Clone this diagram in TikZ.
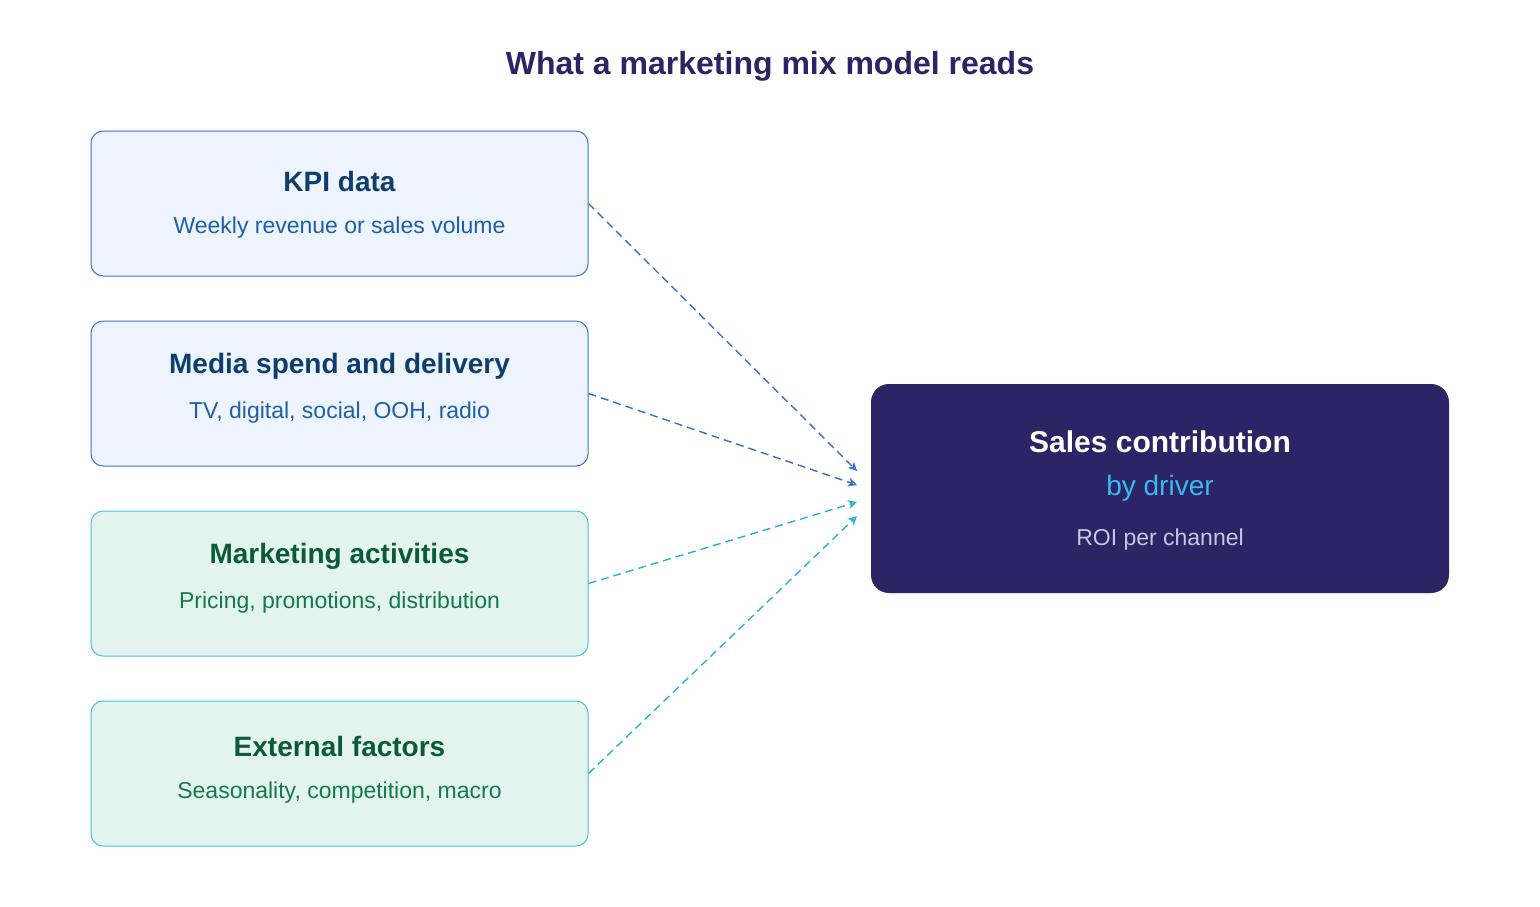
\documentclass[tikz,border=0pt]{standalone}
\usepackage{fontspec}
\setmainfont{Liberation Sans}
\usetikzlibrary{arrows.meta}
\definecolor{navy}{HTML}{2B2566}
\definecolor{bfill}{HTML}{EEF4FD}
\definecolor{bline}{HTML}{3D72C4}
\definecolor{btitle}{HTML}{0E3D6E}
\definecolor{bsub}{HTML}{1F5FA5}
\definecolor{gfill}{HTML}{E3F4EE}
\definecolor{gline}{HTML}{45C4DA}
\definecolor{gtitle}{HTML}{0B5A3C}
\definecolor{gsub}{HTML}{137A4E}
\definecolor{arrb}{HTML}{3A6FC4}
\definecolor{arrc}{HTML}{28B2D2}
\definecolor{sky}{HTML}{3AB8F0}
\definecolor{roi}{HTML}{C8C6E0}
\begin{document}
\begin{tikzpicture}[x=1pt,y=-1pt,
  box/.style={draw,line width=1pt,rounded corners=12pt,minimum width=497pt,minimum height=145pt,inner sep=0pt},
  bbox/.style={box,fill=bfill,draw=bline},
  gbox/.style={box,fill=gfill,draw=gline},
  tt/.style={font=\fontsize{28}{32}\selectfont\bfseries},
  st/.style={font=\fontsize{23}{28}\selectfont},
  arr/.style={dashed,line width=1.4pt,dash pattern=on 8pt off 5pt,-{Stealth[length=9pt,width=9pt,open]}}]
\useasboundingbox (0,0) rectangle (1540,906);
\node[font=\fontsize{32}{36}\selectfont\bfseries,text=navy] (title) at (770,66) {What a marketing mix model reads};
\node[bbox] (k) at (339.5,203.5) {};
\node[tt,text=btitle] (kt) at (339.5,181) {KPI data};
\node[st,text=bsub] (ks) at (339.5,228) {Weekly revenue or sales volume};
\node[bbox] (m) at (339.5,393.5) {};
\node[tt,text=btitle] (mt) at (339.5,366) {Media spend and delivery};
\node[st,text=bsub] (ms) at (339.5,413) {TV, digital, social, OOH, radio};
\node[gbox] (a) at (339.5,583.5) {};
\node[tt,text=gtitle] (at) at (339.5,556) {Marketing activities};
\node[st,text=gsub] (as) at (339.5,603) {Pricing, promotions, distribution};
\node[gbox] (e) at (339.5,773.5) {};
\node[tt,text=gtitle] (et) at (339.5,746) {External factors};
\node[st,text=gsub] (es) at (339.5,793) {Seasonality, competition, macro};
\node[fill=navy,rounded corners=18pt,minimum width=578pt,minimum height=209pt,inner sep=0pt] (s) at (1160,488.5) {};
\node[font=\fontsize{30}{34}\selectfont\bfseries,text=white] (s1) at (1160,442) {Sales contribution};
\node[font=\fontsize{28}{32}\selectfont,text=sky] (s2) at (1160,488) {by driver};
\node[st,text=roi] (s3) at (1160,540) {ROI per channel};
\coordinate (t1) at (857,471);
\coordinate (t2) at (857,485);
\coordinate (t3) at (857,502);
\coordinate (t4) at (857,516);
\draw[arr,draw=arrb] (k.east) -- (t1);
\draw[arr,draw=arrb] (m.east) -- (t2);
\draw[arr,draw=arrc] (a.east) -- (t3);
\draw[arr,draw=arrc] (e.east) -- (t4);
\end{tikzpicture}
\end{document}
